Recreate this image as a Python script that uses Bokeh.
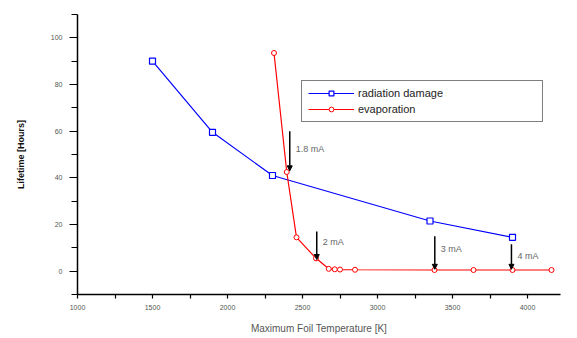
from bokeh.plotting import figure
from bokeh.models import Range1d, Legend, LegendItem, Arrow, NormalHead, Label, FixedTicker
from bokeh.embed import file_html
from bokeh.resources import INLINE

# ---- data ----
rad_T = [1500, 1900, 2300, 3350, 3900]
rad_L = [90, 59.5, 41, 21.5, 14.5]

evap_T = [2310, 2395, 2460, 2590, 2675, 2715, 2750, 2850, 3380, 3640, 3900, 4160]
evap_L = [93.5, 42.5, 14.5, 5.5, 1.0, 0.8, 0.7, 0.6, 0.5, 0.5, 0.5, 0.5]

arrow_T = [2415, 2595, 3382, 3893]
arrow_top = [60, 17, 15, 11.5]
arrow_bot = [43, 5, 0.8, 0.8]
arrow_lbl = ["1.8 mA", "2 mA", "3 mA", "4 mA"]
arrow_lbl_y = [52.5, 12.3, 9.3, 6.3]

x_ticks = [1000, 1500, 2000, 2500, 3000, 3500, 4000]
y_ticks = [0, 20, 40, 60, 80, 100]

FONT = "Liberation Sans"

p = figure(width=570, height=336, output_backend="svg", toolbar_location=None,
           x_range=Range1d(1000, 4220), y_range=Range1d(-10, 110),
           min_border_left=77, min_border_right=10, min_border_top=14, min_border_bottom=41)
p.outline_line_color = None
p.xgrid.visible = False
p.ygrid.visible = False

for ax in (p.xaxis[0], p.yaxis[0]):
    ax.axis_line_color = "black"
    ax.axis_line_width = 1.5
    ax.major_tick_line_color = "black"
    ax.minor_tick_line_color = "black"
    ax.major_tick_line_width = 1.2
    ax.minor_tick_line_width = 1.2
    ax.major_label_text_font = FONT
    ax.major_label_text_font_size = "7px"
    ax.major_label_text_color = "#555555"
    ax.axis_label_text_font = FONT

p.xaxis.ticker = FixedTicker(ticks=x_ticks, minor_ticks=[t + 250 for t in x_ticks])
p.yaxis.ticker = FixedTicker(ticks=y_ticks, minor_ticks=[-10, 10, 30, 50, 70, 90, 110])
p.xaxis.major_tick_out = 4
p.xaxis.major_tick_in = 0
p.xaxis.minor_tick_out = 4
p.xaxis.minor_tick_in = 0
p.yaxis.major_tick_out = 8
p.yaxis.major_tick_in = 0
p.yaxis.minor_tick_out = 6
p.yaxis.minor_tick_in = 0
p.xaxis.major_label_standoff = 6
p.yaxis.major_label_standoff = 7

p.xaxis.axis_label = "Maximum Foil Temperature [K]"
p.xaxis.axis_label_text_font_size = "10px"
p.xaxis.axis_label_text_font_style = "normal"
p.xaxis.axis_label_text_color = "#555555"
p.xaxis.axis_label_standoff = 10

p.yaxis.axis_label = "Lifetime [Hours]"
p.yaxis.axis_label_text_font_size = "9px"
p.yaxis.axis_label_text_font_style = "bold"
p.yaxis.axis_label_text_color = "#111111"
p.yaxis.axis_label_standoff = 22

r_line = p.line(rad_T, rad_L, line_color="#0000ff", line_width=1.2)
r_mark = p.scatter(rad_T, rad_L, marker="square", size=6, line_color="#0000ff",
                   fill_color="white", line_width=1.2)
e_line = p.line(evap_T, evap_L, line_color="#ff0000", line_width=1.2)
e_mark = p.scatter(evap_T, evap_L, marker="circle", size=5, line_color="#ff0000",
                   fill_color="white", line_width=1)

for t, top, bot, lbl, ly in zip(arrow_T, arrow_top, arrow_bot, arrow_lbl, arrow_lbl_y):
    p.add_layout(Arrow(x_start=t, y_start=top, x_end=t, y_end=bot,
                       line_color="black", line_width=1.5,
                       end=NormalHead(size=5, fill_color="black", line_color="black")))
    p.add_layout(Label(x=t, y=ly, x_offset=6, text=lbl, text_font=FONT,
                       text_font_size="9px", text_color="#666666",
                       text_baseline="middle"))

legend = Legend(items=[LegendItem(label="radiation damage", renderers=[r_line, r_mark]),
                       LegendItem(label="evaporation", renderers=[e_line, e_mark])],
                location=(224, 172))
legend.label_text_font = FONT
legend.label_text_font_size = "11px"
legend.label_text_color = "#222222"
legend.glyph_width = 46
legend.glyph_height = 12
legend.label_width = 178
legend.label_height = 12
legend.label_standoff = 4
legend.spacing = 4
legend.padding = 6
legend.margin = 0
legend.border_line_color = "black"
legend.border_line_width = 1.5
legend.background_fill_alpha = 1
p.add_layout(legend)

open("out.html", "w").write(file_html(p, INLINE))
